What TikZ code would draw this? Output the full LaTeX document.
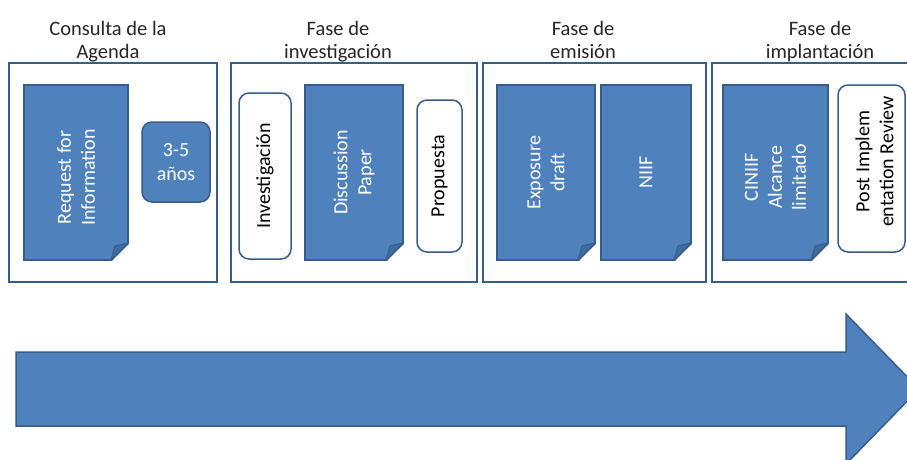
\documentclass[tikz,border=0pt]{standalone}
\usepackage{fontspec}
\setmainfont{Carlito}
\definecolor{azul}{HTML}{4F81BD}
\definecolor{azulborde}{HTML}{385D8A}
\definecolor{azulpliegue}{HTML}{3E6A9E}
\definecolor{titulo}{HTML}{262626}
\tikzset{
    fase/.style={draw=azulborde, line width=2pt, fill=white, inner sep=0pt, outer sep=0pt},
    documento/.style={draw=azulborde, line width=1.5pt, fill=azul, inner sep=0pt, outer sep=0pt},
    cajablanca/.style={draw=azulborde, line width=1.5pt, fill=white, rounded corners=10pt, inner sep=0pt, outer sep=0pt},
    cajaazul/.style={draw=azulborde, line width=1.5pt, fill=azul, rounded corners=10pt, inner sep=0pt, outer sep=0pt, text=white, align=center},
    girado/.style={rotate=90, align=center, inner sep=0pt},
    titulofase/.style={align=center, inner sep=0pt, text=titulo, font=\fontsize{20.5}{23}\selectfont},
}
\begin{document}
\begin{tikzpicture}[x=1pt, y=-1pt, font=\fontsize{20}{24}\selectfont]
        \useasboundingbox (0,0) rectangle (907,459);
        \clip (0,0) rectangle (907,459);

        % Riquadri delle fasi
        \node[fase, minimum width=208pt, minimum height=219pt](fConsulta) at (113,172.5) {};
        \node[fase, minimum width=246pt, minimum height=219pt](fInvestigacion) at (354,172.5) {};
        \node[fase, minimum width=223pt, minimum height=219pt](fEmision) at (594.5,172.5) {};
        \node[fase, minimum width=216pt, minimum height=219pt](fImplantacion) at (820,172.5) {};

        % Titoli delle fasi
        \node[titulofase](tConsulta) at (108,42.6) {Consulta de la\strut\\Agenda\strut};
        \node[titulofase](tInvestigacion) at (338,42.6) {Fase de\strut\\investigación\strut};
        \node[titulofase](tEmision) at (583,42.6) {Fase de\strut\\emisión\strut};
        \node[titulofase](tImplantacion) at (820,42.6) {Fase de\strut\\implantación\strut};

        % Documenti
        \node[documento, minimum width=104pt, minimum height=175pt,
            label={[girado, text=white, xshift=-5pt]center:Request for\\Information}](nRequest) at (76,172.5) {};
        \node[documento, minimum width=98pt, minimum height=175pt,
            label={[girado, text=white]center:Discussion\\Paper}](nDiscussion) at (354,172.5) {};
        \node[documento, minimum width=98pt, minimum height=175pt,
            label={[girado, text=white]center:Exposure\\draft}](nExposure) at (546,172.5) {};
        \node[documento, minimum width=90pt, minimum height=175pt,
            label={[girado, text=white]center:NIIF}](nNIIF) at (646,172.5) {};
        \node[documento, minimum width=105pt, minimum height=175pt,
            label={[girado, text=white, xshift=-5pt]center:CINIIF\\Alcance\\limitado}](nCINIIF) at (775.5,172.5) {};

        % Angolo piegato dei documenti
        \foreach \d in {nRequest, nDiscussion, nExposure, nNIIF, nCINIIF} {
            \fill[white] ([xshift=-17pt, yshift=-2pt]\d.south east) -- ([xshift=2pt, yshift=-2pt]\d.south east)
                -- ([xshift=2pt, yshift=17pt]\d.south east) -- cycle;
            \draw[azulborde, line width=1.5pt, line cap=round] ([yshift=17pt]\d.south east) -- ([xshift=-17pt]\d.south east);
            \filldraw[fill=azulpliegue, draw=azulborde, line width=1pt, line join=round] ([yshift=17pt]\d.south east)
                -- ([xshift=-13pt, yshift=14pt]\d.south east) -- ([xshift=-17pt]\d.south east) -- cycle;
        }

        % Riquadri arrotondati
        \node[cajaazul, minimum width=68pt, minimum height=80pt](nAnos) at (176,162) {3-5\\años};
        \node[cajablanca, minimum width=52pt, minimum height=166pt,
            label={[girado]center:Investigación}](nInvestigacion) at (265,176) {};
        \node[cajablanca, minimum width=45pt, minimum height=152pt,
            label={[girado]center:Propuesta}](nPropuesta) at (439.5,176) {};
        \node[cajablanca, minimum width=67pt, minimum height=167pt,
            label={[girado, xshift=7pt, yshift=-3pt]center:Post Implem\\entation Review}](nPost) at (871.5,168.5) {};

        % Freccia del tempo
        \filldraw[fill=azul, draw=azulborde, line width=1.5pt]
            (16,352) -- (846,352) -- (846,314) -- (919,389) -- (846,464) -- (846,426) -- (16,426) -- cycle;
    \end{tikzpicture}
\end{document}
